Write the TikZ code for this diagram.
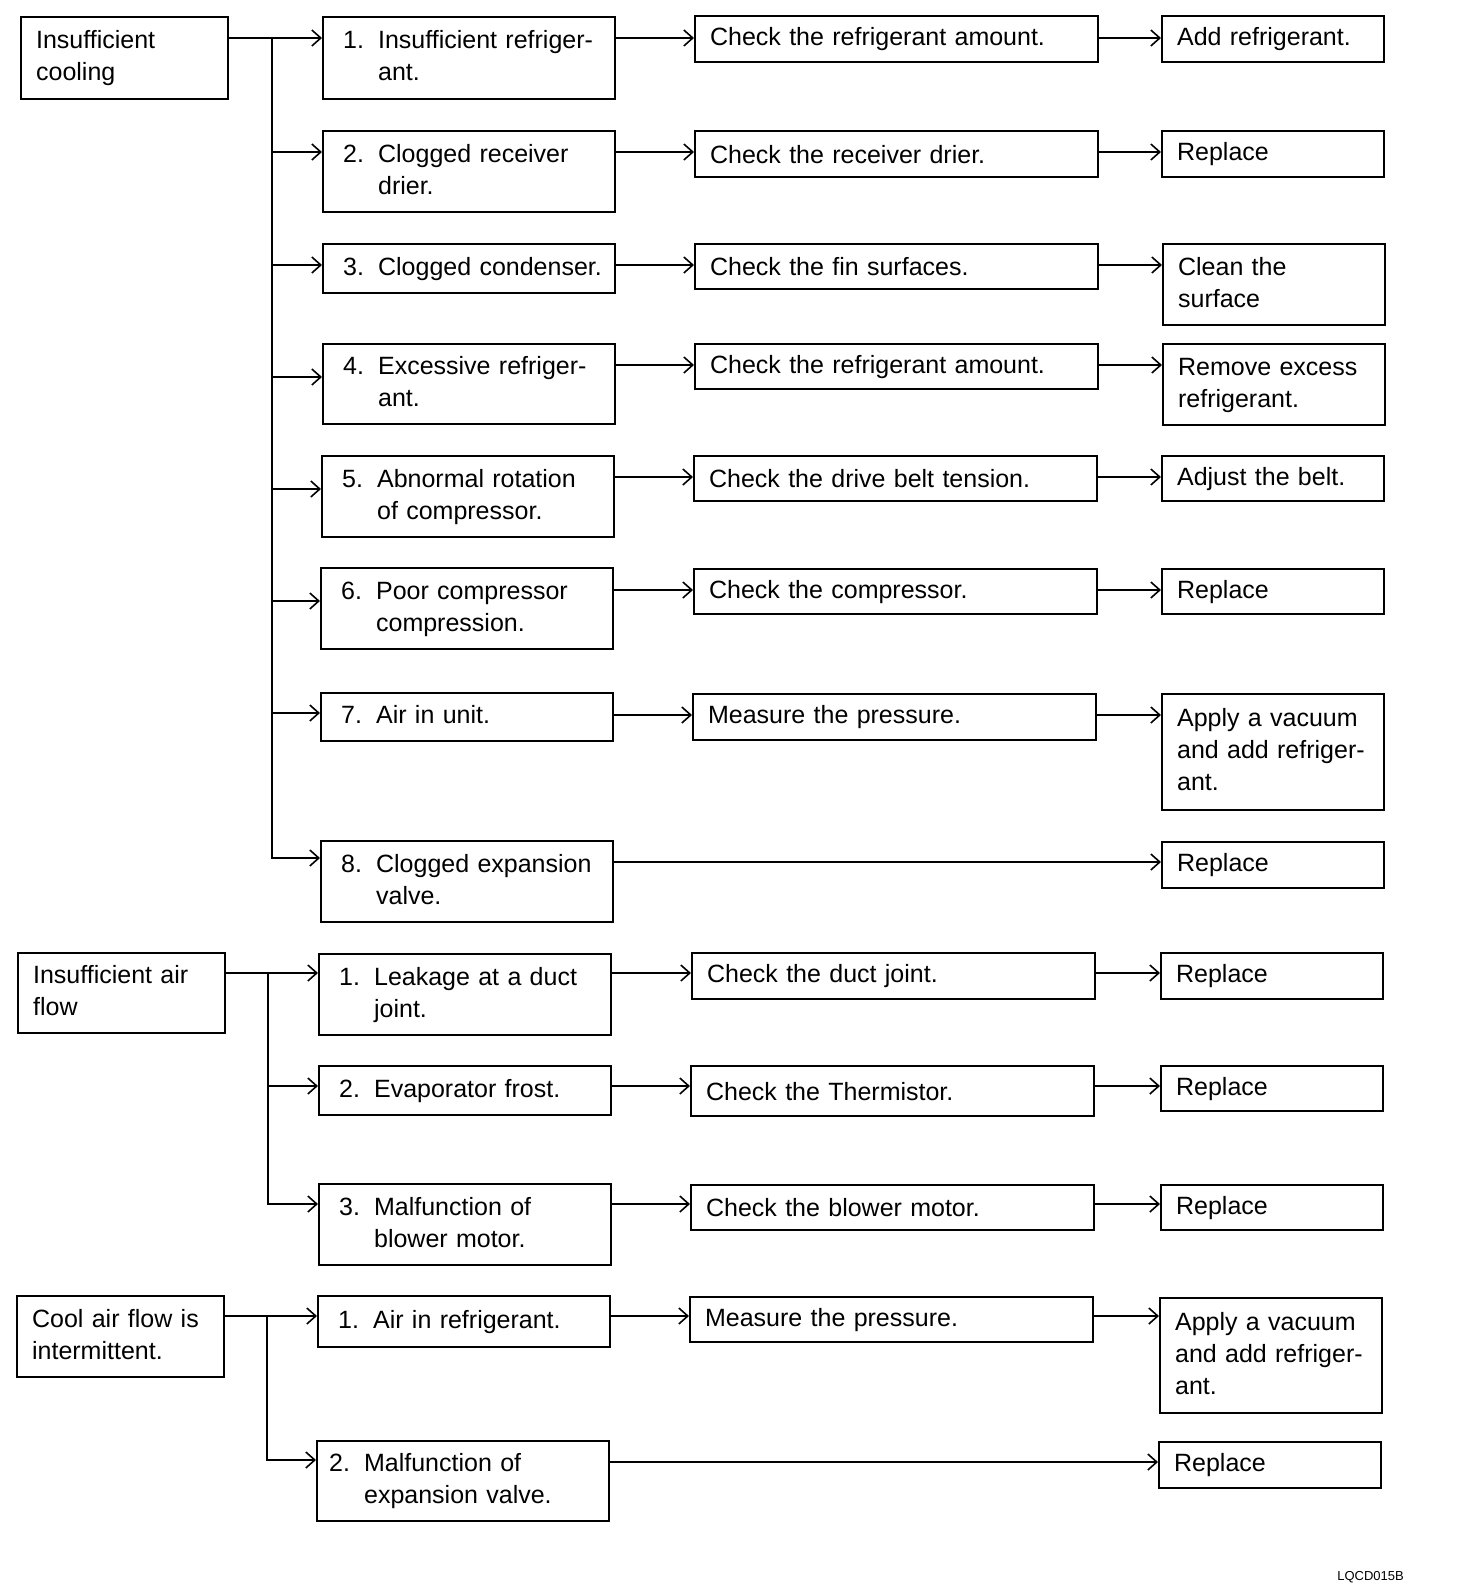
\documentclass[tikz,border=0pt]{standalone}
\usepackage{fontspec}
\setmainfont{Liberation Sans}
\usetikzlibrary{arrows.meta}
\newcommand\Kone[2]{\begin{tabular}{@{}p{35pt}@{}l@{}}#1&#2\end{tabular}}
\newcommand\Ktwo[3]{\begin{tabular}{@{}p{35pt}@{}l@{}}#1&#2\\&#3\end{tabular}}
\newcommand\Mylines[1]{\begin{tabular}{@{}l@{}}#1\end{tabular}}
\begin{document}
\begin{tikzpicture}[x=1pt,y=-1pt,
  box/.style={draw, line width=2.2pt, anchor=north west, align=left, inner ysep=0pt,
    font=\fontsize{25}{32}\selectfont},
  colA/.style={box, inner xsep=15pt, text width=177pt},
  colB/.style={box, inner xsep=20pt, text width=252pt},
  colBn/.style={box, inner xsep=12pt, text width=268pt},
  colC/.style={box, inner xsep=15pt, text width=373pt},
  colD/.style={box, inner xsep=15pt, text width=192pt},
  arr/.style={line width=1.8pt, -{Straight Barb[length=9pt,width=16pt,line width=1.6pt]}},
  trunk/.style={line width=1.8pt}]
\useasboundingbox (0,0) rectangle (1456,1592);

% problems
\node[colA, minimum height=82pt] (A1) at (20,16) {\Mylines{Insufficient\\cooling}};
\node[colA, minimum height=80pt] (A2) at (17,952) {\Mylines{Insufficient air\\flow}};
\node[colA, minimum height=81pt] (A3) at (16,1295) {\Mylines{Cool air flow is\\intermittent.}};

% causes
\node[colB, minimum height=82pt] (B1) at (322,16) {\Ktwo{1.}{Insufficient refriger-}{ant.}};
\node[colB, minimum height=81pt] (B2) at (322,130) {\Ktwo{2.}{Clogged receiver}{drier.}};
\node[colB, minimum height=49pt] (B3) at (322,243) {\Kone{3.}{Clogged condenser.}};
\node[colB, minimum height=80pt] (B4) at (322,343) {\Ktwo{4.}{Excessive refriger-}{ant.}};
\node[colB, minimum height=81pt] (B5) at (321,455) {\Ktwo{5.}{Abnormal rotation}{of compressor.}};
\node[colB, minimum height=81pt] (B6) at (320,567) {\Ktwo{6.}{Poor compressor}{compression.}};
\node[colB, minimum height=48pt] (B7) at (320,692) {\Kone{7.}{Air in unit.}};
\node[colB, minimum height=81pt] (B8) at (320,840) {\Ktwo{8.}{Clogged expansion}{valve.}};
\node[colB, minimum height=81pt] (B9) at (318,953) {\Ktwo{1.}{Leakage at a duct}{joint.}};
\node[colB, minimum height=49pt] (B10) at (318,1065) {\Kone{2.}{Evaporator frost.}};
\node[colB, minimum height=81pt] (B11) at (318,1183) {\Ktwo{3.}{Malfunction of}{blower motor.}};
\node[colB, minimum height=51pt] (B12) at (317,1295) {\Kone{1.}{Air in refrigerant.}};
\node[colBn, minimum height=80pt] (B13) at (316,1440) {\Ktwo{2.}{Malfunction of}{expansion valve.}};

% checks
\node[colC, minimum height=46pt] (C1) at (694,15) {Check the refrigerant amount.};
\node[colC, minimum height=46pt] (C2) at (694,130) {Check the receiver drier.};
\node[colC, minimum height=45pt] (C3) at (694,243) {Check the fin surfaces.};
\node[colC, minimum height=45pt] (C4) at (694,343) {Check the refrigerant amount.};
\node[colC, minimum height=45pt] (C5) at (693,455) {Check the drive belt tension.};
\node[colC, minimum height=45pt] (C6) at (693,568) {Check the compressor.};
\node[colC, minimum height=46pt] (C7) at (692,693) {Measure the pressure.};
\node[colC, minimum height=46pt] (C9) at (691,952) {Check the duct joint.};
\node[colC, minimum height=50pt] (C10) at (690,1065) {Check the Thermistor.};
\node[colC, minimum height=45pt] (C11) at (690,1184) {Check the blower motor.};
\node[colC, minimum height=45pt] (C12) at (689,1296) {Measure the pressure.};

% actions
\node[colD, minimum height=46pt] (D1) at (1161,15) {Add refrigerant.};
\node[colD, minimum height=46pt] (D2) at (1161,130) {Replace};
\node[colD, minimum height=81pt] (D3) at (1162,243) {\Mylines{Clean the\\surface}};
\node[colD, minimum height=81pt] (D4) at (1162,343) {\Mylines{Remove excess\\refrigerant.}};
\node[colD, minimum height=45pt] (D5) at (1161,455) {Adjust the belt.};
\node[colD, minimum height=45pt] (D6) at (1161,568) {Replace};
\node[colD, minimum height=116pt] (D7) at (1161,693) {\Mylines{Apply a vacuum\\and add refriger-\\ant.}};
\node[colD, minimum height=46pt] (D8) at (1161,841) {Replace};
\node[colD, minimum height=46pt] (D9) at (1160,952) {Replace};
\node[colD, minimum height=45pt] (D10) at (1160,1065) {Replace};
\node[colD, minimum height=45pt] (D11) at (1160,1184) {Replace};
\node[colD, minimum height=115pt] (D12) at (1159,1297) {\Mylines{Apply a vacuum\\and add refriger-\\ant.}};
\node[colD, minimum height=46pt] (D13) at (1158,1441) {Replace};

\node[anchor=east, inner sep=0pt, font=\fontsize{13}{15}\selectfont] (code) at (1404,1577) {LQCD015B};

% row heights
\coordinate (r1) at (0,38);
\coordinate (r2) at (0,152);
\coordinate (r3) at (0,265);
\coordinate (r4) at (0,377);
\coordinate (r5) at (0,489);
\coordinate (r6) at (0,601);
\coordinate (r7) at (0,713);
\coordinate (r8) at (0,858);
\coordinate (s4) at (0,365);
\coordinate (s5) at (0,477);
\coordinate (s6) at (0,590);
\coordinate (s7) at (0,715);
\coordinate (s8) at (0,862);
\coordinate (q1) at (0,973);
\coordinate (q2) at (0,1086);
\coordinate (q3) at (0,1204);
\coordinate (p1) at (0,1316);
\coordinate (p2) at (0,1460);
\coordinate (p3) at (0,1462);

% trunks
\coordinate (T1) at (272,38);
\coordinate (T2) at (268,973);
\coordinate (T3) at (267,1316);

% group 1
\draw[arr] (A1.east |- r1) -- (B1.west |- r1);
\draw[trunk] (T1) -- (T1 |- r7);
\draw[arr] (T1) |- (B8.west |- r8);
\draw[arr] (T1 |- r2) -- (B2.west |- r2);
\draw[arr] (T1 |- r3) -- (B3.west |- r3);
\draw[arr] (T1 |- r4) -- (B4.west |- r4);
\draw[arr] (T1 |- r5) -- (B5.west |- r5);
\draw[arr] (T1 |- r6) -- (B6.west |- r6);
\draw[arr] (T1 |- r7) -- (B7.west |- r7);

\draw[arr] (B1.east |- r1) -- (C1.west |- r1);
\draw[arr] (B2.east |- r2) -- (C2.west |- r2);
\draw[arr] (B3.east |- r3) -- (C3.west |- r3);
\draw[arr] (B4.east |- s4) -- (C4.west |- s4);
\draw[arr] (B5.east |- s5) -- (C5.west |- s5);
\draw[arr] (B6.east |- s6) -- (C6.west |- s6);
\draw[arr] (B7.east |- s7) -- (C7.west |- s7);
\draw[arr] (B8.east |- s8) -- (D8.west |- s8);

\draw[arr] (C1.east |- r1) -- (D1.west |- r1);
\draw[arr] (C2.east |- r2) -- (D2.west |- r2);
\draw[arr] (C3.east |- r3) -- (D3.west |- r3);
\draw[arr] (C4.east |- s4) -- (D4.west |- s4);
\draw[arr] (C5.east |- s5) -- (D5.west |- s5);
\draw[arr] (C6.east |- s6) -- (D6.west |- s6);
\draw[arr] (C7.east |- s7) -- (D7.west |- s7);

% group 2
\draw[arr] (A2.east |- q1) -- (B9.west |- q1);
\draw[arr] (T2) |- (B11.west |- q3);
\draw[arr] (T2 |- q2) -- (B10.west |- q2);
\draw[arr] (B9.east |- q1) -- (C9.west |- q1);
\draw[arr] (B10.east |- q2) -- (C10.west |- q2);
\draw[arr] (B11.east |- q3) -- (C11.west |- q3);
\draw[arr] (C9.east |- q1) -- (D9.west |- q1);
\draw[arr] (C10.east |- q2) -- (D10.west |- q2);
\draw[arr] (C11.east |- q3) -- (D11.west |- q3);

% group 3
\draw[arr] (A3.east |- p1) -- (B12.west |- p1);
\draw[arr] (T3) |- (B13.west |- p2);
\draw[arr] (B12.east |- p1) -- (C12.west |- p1);
\draw[arr] (C12.east |- p1) -- (D12.west |- p1);
\draw[arr] (B13.east |- p3) -- (D13.west |- p3);
\end{tikzpicture}
\end{document}
